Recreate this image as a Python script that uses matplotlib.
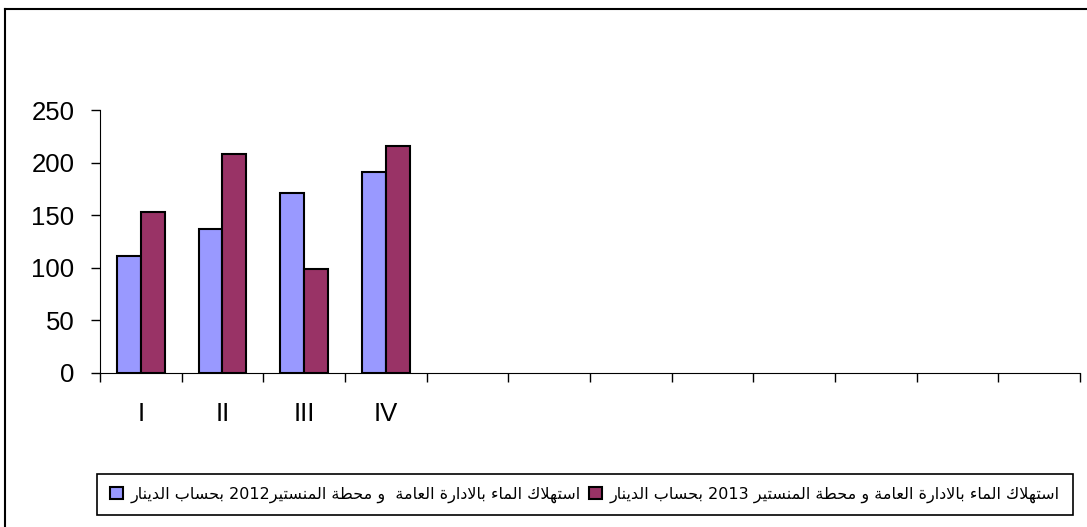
import matplotlib
matplotlib.use("Agg")
import matplotlib.pyplot as plt
import numpy as np
import re

# data
categories = ["I", "II", "III", "IV", "", "", "", "", "", "", "", ""]
water_2012 = [111, 137, 171, 191]
water_2013 = [153, 208, 99, 216]
label_2012 = "استهلاك الماء بالادارة العامة  و محطة المنستير2012 بحساب الدينار"
label_2013 = "استهلاك الماء بالادارة العامة و محطة المنستير 2013 بحساب الدينار"

# small arabic shaper (no arabic_reshaper / bidi available)
FORMS = {
    'ء': (0xFE80, None, None, None),
    'ا': (0xFE8D, 0xFE8E, None, None),
    'ب': (0xFE8F, 0xFE90, 0xFE91, 0xFE92),
    'ة': (0xFE93, 0xFE94, None, None),
    'ت': (0xFE95, 0xFE96, 0xFE97, 0xFE98),
    'ح': (0xFEA1, 0xFEA2, 0xFEA3, 0xFEA4),
    'د': (0xFEA9, 0xFEAA, None, None),
    'ر': (0xFEAD, 0xFEAE, None, None),
    'س': (0xFEB1, 0xFEB2, 0xFEB3, 0xFEB4),
    'ط': (0xFEC1, 0xFEC2, 0xFEC3, 0xFEC4),
    'ع': (0xFEC9, 0xFECA, 0xFECB, 0xFECC),
    'ك': (0xFED9, 0xFEDA, 0xFEDB, 0xFEDC),
    'ل': (0xFEDD, 0xFEDE, 0xFEDF, 0xFEE0),
    'م': (0xFEE1, 0xFEE2, 0xFEE3, 0xFEE4),
    'ن': (0xFEE5, 0xFEE6, 0xFEE7, 0xFEE8),
    'ه': (0xFEE9, 0xFEEA, 0xFEEB, 0xFEEC),
    'و': (0xFEED, 0xFEEE, None, None),
    'ي': (0xFEF1, 0xFEF2, 0xFEF3, 0xFEF4),
}


def shape_word(word):
    # merge lam + alef into a ligature token
    letters = []
    i = 0
    while i < len(word):
        if word[i] == 'ل' and i + 1 < len(word) and word[i + 1] == 'ا':
            letters.append('LA')
            i += 2
        else:
            letters.append(word[i])
            i += 1

    def joins_next(c):
        if c == 'LA':
            return False
        f = FORMS.get(c)
        return f is not None and f[2] is not None

    def joins_prev(c):
        if c == 'LA':
            return True
        f = FORMS.get(c)
        return f is not None and f[1] is not None

    out = []
    for k, c in enumerate(letters):
        prev_ok = k > 0 and joins_next(letters[k - 1]) and joins_prev(c)
        next_ok = k + 1 < len(letters) and joins_next(c) and joins_prev(letters[k + 1])
        if c == 'LA':
            out.append(chr(0xFEFC if prev_ok else 0xFEFB))
            continue
        f = FORMS.get(c)
        if f is None:
            out.append(c)
        elif prev_ok and next_ok:
            out.append(chr(f[3]))
        elif prev_ok:
            out.append(chr(f[1]))
        elif next_ok:
            out.append(chr(f[2]))
        else:
            out.append(chr(f[0]))
    return "".join(out)


def rtl(text):
    runs = re.findall(r"\d+|\D+", text)
    vis = []
    for r in reversed(runs):
        if r.isdigit():
            vis.append(r)
        else:
            words = r.split(" ")
            vis.append(" ".join(shape_word(w)[::-1] for w in reversed(words)))
    return "".join(vis)


fig = plt.figure(figsize=(10.87, 5.27), dpi=100)
ax = fig.add_axes([100 / 1087, 1 - 373 / 527, 980 / 1087, 263 / 527])

x = np.arange(len(water_2012))
w = 0.29
ax.bar(x - w / 2, water_2012, w, color="#9999FF", edgecolor="black", linewidth=1.5,
       label=rtl(label_2012))
ax.bar(x + w / 2, water_2013, w, color="#993366", edgecolor="black", linewidth=1.5,
       label=rtl(label_2013))

ax.set_xlim(-0.5, len(categories) - 0.5)
ax.set_ylim(0, 250)
ax.set_yticks(range(0, 251, 50))

ax.set_xticks(np.arange(-0.5, len(categories), 1.0))
ax.set_xticklabels([])
ax.set_xticks(np.arange(len(categories)), minor=True)
ax.set_xticklabels(categories, minor=True, fontsize=18.5, family="Liberation Sans")
ax.tick_params(axis="x", which="major", direction="out", length=6.5, width=1)
ax.tick_params(axis="x", which="minor", length=0, pad=21)
ax.tick_params(axis="y", direction="out", length=6.5, width=1, pad=12, labelsize=18.5)
for t in ax.get_yticklabels():
    t.set_family("Liberation Sans")

ax.spines["top"].set_visible(False)
ax.spines["right"].set_visible(False)

leg = fig.legend(loc="center", bbox_to_anchor=(585 / 1087, 1 - 494.5 / 527), ncol=2,
                 fancybox=False, edgecolor="black", framealpha=1,
                 prop={"family": "DejaVu Sans", "size": 11.5},
                 handlelength=0.8, handleheight=0.8, handletextpad=0.5,
                 columnspacing=0.5, borderpad=0.8)
leg.get_frame().set_linewidth(1.2)

# outer chart border (only left and top visible in the picture)
fig.add_artist(plt.Line2D([5 / 1087, 5 / 1087], [0, 1 - 9 / 527], color="black", lw=1.5))
fig.add_artist(plt.Line2D([5 / 1087, 1], [1 - 9 / 527, 1 - 9 / 527], color="black", lw=1.5))

fig.savefig("out.png", dpi=100)
